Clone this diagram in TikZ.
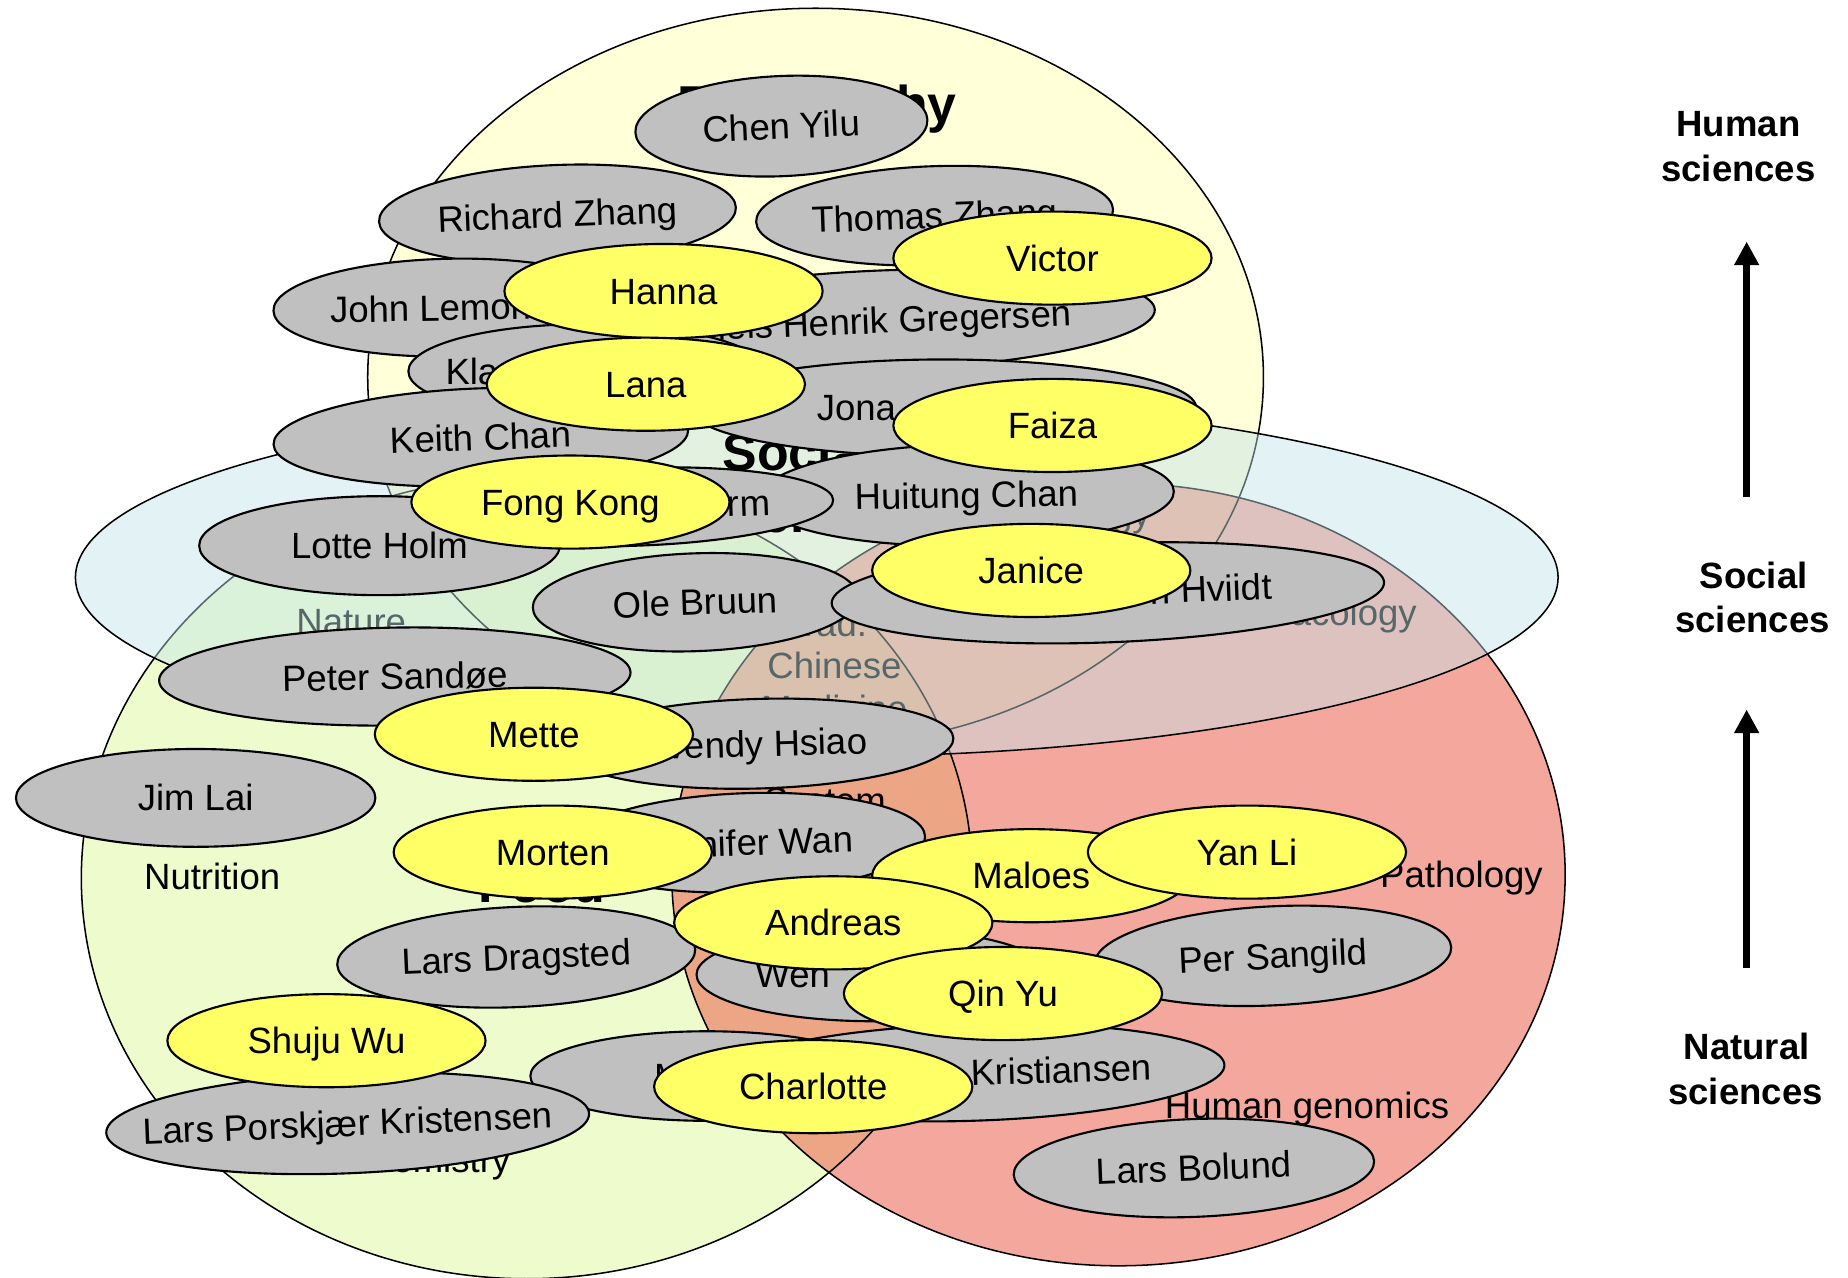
\documentclass[tikz,border=0pt]{standalone}
\usepackage{fontspec}
\setmainfont{Liberation Sans}
\usetikzlibrary{shapes.geometric,arrows.meta}
\definecolor{grayfill}{RGB}{192,192,192}
\definecolor{yelfill}{RGB}{255,255,102}
\definecolor{philc}{RGB}{255,255,185}
\definecolor{foodc}{RGB}{225,250,165}
\definecolor{redc}{RGB}{235,95,75}
\definecolor{socc}{RGB}{195,228,235}
\newcommand\pname[1]{\makebox[0pt]{#1}}
\newcommand\pfrag[2]{\makebox[0pt][l]{\hspace*{#1pt}#2}}
\begin{document}
\begin{tikzpicture}[x=1pt,y=-1pt,
  person/.style={ellipse, draw=black, line width=1.8pt, inner sep=0pt,
    text height=22pt, text depth=0pt, font=\fontsize{31}{36}\selectfont},
  gp/.style={person, fill=grayfill},
  yp/.style={person, fill=yelfill, minimum width=270pt, minimum height=79pt},
  area/.style={line width=1.3pt},
  cat/.style={anchor=base, inner sep=0pt, font=\fontsize{31}{36}\selectfont},
  bigcat/.style={anchor=base, inner sep=0pt, font=\fontsize{44}{50}\selectfont\bfseries},
  side/.style={anchor=base, inner sep=0pt, font=\fontsize{31}{36}\selectfont\bfseries},
  uparrow/.style={line width=6pt, -{Triangle[width=20pt,length=20pt]}}
]
\useasboundingbox (0,0) rectangle (1568,1084);
\fill[white] (0,0) rectangle (1568,1084);

% category areas
\fill[philc, fill opacity=0.55] (692,320) ellipse [x radius=380pt, y radius=313pt];
\fill[foodc, fill opacity=0.55] (447,745) ellipse [x radius=378pt, y radius=340pt];
\fill[redc, fill opacity=0.55] (949,742) ellipse [x radius=379pt, y radius=332pt];
\draw[area] (692,320) ellipse [x radius=380pt, y radius=313pt];
\draw[area] (447,745) ellipse [x radius=378pt, y radius=340pt];
\draw[area] (949,742) ellipse [x radius=379pt, y radius=332pt];

% category texts
\node[bigcat] (tphil) at (693,104) {Philosophy};
\node[bigcat] (tfood) at (460,766) {Food};
\node[cat] (tnut) at (180,755) {Nutrition};
\node[cat] (tfch) at (327,995) {Food chemistry};
\node[cat] (tpat) at (1240,753) {Pathology};
\node[cat] (thg) at (1109,949) {Human genomics};
\node[cat] (tsys) at (700,690) {System};
\node[cat] (tnat) at (298,538) {Nature};
\node[cat] (ttcm1) at (700,540) {Trad.};
\node[cat] (ttcm2) at (708,576) {Chinese};
\node[cat] (ttcm3) at (708,612) {Medicine};
\node[cat] (tanth) at (885,447) {Anthropology};
\node[cat] (tpha) at (1103,531) {Pharmacology};

% social sciences area (over the texts beneath it)
\fill[socc, fill opacity=0.45] (693,490) ellipse [x radius=629pt, y radius=152pt];
\draw[area] (693,490) ellipse [x radius=629pt, y radius=152pt];
\node[bigcat] (tsoc1) at (678,399) {Social};
\node[bigcat] (tsoc2) at (678,452) {sciences};

% grey persons
\node[gp, minimum width=248pt, minimum height=85pt, rotate=2.5] (cy) at (663,107) {\pname{Chen Yilu}};
\node[gp, minimum width=303pt, minimum height=84pt, rotate=2.3] (rz) at (473,182) {\pname{Richard Zhang}};
\node[gp, minimum width=303pt, minimum height=84pt, rotate=2] (tz) at (793,183) {\pname{Thomas Zhang}};
\node[gp, minimum width=302pt, minimum height=83pt, rotate=1] (jl) at (383,261) {\pfrag{-103}{John Lemon}};
\node[gp, minimum width=464pt, minimum height=85pt, rotate=2.3] (ng) at (748,272) {\pname{Niels Henrik Gregersen}};
\node[gp, minimum width=303pt, minimum height=80pt] (kl) at (498,315) {\pfrag{-120}{Kla}};
\node[gp, minimum width=430pt, minimum height=82pt] (jo) at (800,346) {\pfrag{-107}{Jona}};
\node[gp, minimum width=352pt, minimum height=83pt, rotate=2] (kc) at (408,371) {\pname{Keith Chan}};
\node[gp, minimum width=352pt, minimum height=86pt, rotate=1] (hc) at (820,420) {\pname{Huitung Chan}};
\node[gp, minimum width=334pt, minimum height=66pt, rotate=2] (orm) at (540,430) {\pfrag{60}{orm}};
\node[gp, minimum width=306pt, minimum height=84pt] (lh) at (322,463) {\pname{Lotte Holm}};
\node[gp, minimum width=276pt, minimum height=83pt, rotate=2] (ob) at (590,511) {\pname{Ole Bruun}};
\node[gp, minimum width=469pt, minimum height=84pt, rotate=2.2] (hv) at (940,503) {\pfrag{36}{n Hviidt}};
\node[gp, minimum width=400pt, minimum height=83pt, rotate=1] (ps) at (335,574) {\pname{Peter Sandøe}};
\node[gp, minimum width=330pt, minimum height=76pt, rotate=1.6] (wh) at (644,631) {\pname{Wendy Hsiao}};
\node[gp, minimum width=305pt, minimum height=83pt] (jm) at (166,677) {\pname{Jim Lai}};
\node[gp, minimum width=304pt, minimum height=84pt, rotate=2] (jw) at (633,715) {\pname{Jennifer Wan}};
\node[gp, minimum width=304pt, minimum height=85pt, rotate=2.5] (ld) at (438,812) {\pname{Lars Dragsted}};
\node[gp, minimum width=300pt, minimum height=79pt] (wn) at (741,827) {\pfrag{-100}{Wen}};
\node[gp, minimum width=303pt, minimum height=84pt, rotate=2.8] (pg) at (1080,811) {\pname{Per Sangild}};
\node[gp, minimum width=300pt, minimum height=76pt] (mm) at (600,913) {\pfrag{-45}{M}};
\node[gp, minimum width=432pt, minimum height=82pt, rotate=1.7] (kr) at (823,910) {\pfrag{1}{Kristiansen}};
\node[gp, minimum width=410pt, minimum height=85pt, rotate=2.3] (lp) at (295,953) {\pname{Lars Porskjær Kristensen}};
\node[gp, minimum width=306pt, minimum height=83pt, rotate=2.2] (lb) at (1013,991) {\pname{Lars Bolund}};

% yellow persons
\node[yp, minimum height=80pt] (hn) at (563,247) {\pname{Hanna}};
\node[yp] (vi) at (893,219) {\pname{Victor}};
\node[yp] (ln) at (548,326) {\pname{Lana}};
\node[yp] (fa) at (893,361) {\pname{Faiza}};
\node[yp] (fk) at (484,426) {\pname{Fong Kong}};
\node[yp] (ja) at (875,484) {\pname{Janice}};
\node[yp] (me) at (453,623) {\pname{Mette}};
\node[yp] (mo) at (469,723) {\pname{Morten}};
\node[yp] (ma) at (875,743) {\pname{Maloes}};
\node[yp] (yl) at (1058,723) {\pname{Yan Li}};
\node[yp] (an) at (707,783) {\pname{Andreas}};
\node[yp] (qy) at (851,843) {\pname{Qin Yu}};
\node[yp] (sw) at (277,883) {\pname{Shuju Wu}};
\node[yp] (ch) at (690,922) {\pname{Charlotte}};

% side scale
\node[side] (hs1) at (1475,116) {Human};
\node[side] (hs2) at (1475,154) {sciences};
\node[side] (ss1) at (1488,499) {Social};
\node[side] (ss2) at (1487,537) {sciences};
\node[side] (ns1) at (1482,899) {Natural};
\node[side] (ns2) at (1481,937) {sciences};
\coordinate (a1s) at (1482,422);
\coordinate (a1e) at (1482,205);
\coordinate (a2s) at (1482,821);
\coordinate (a2e) at (1482,602);
\draw[uparrow] (a1s) -- (a1e);
\draw[uparrow] (a2s) -- (a2e);
\end{tikzpicture}
\end{document}
